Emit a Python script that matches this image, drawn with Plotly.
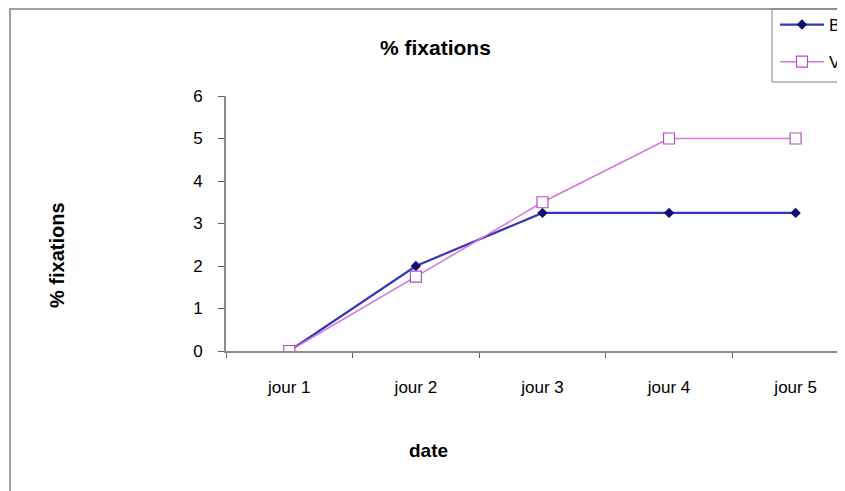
import plotly.graph_objects as go

# Data
days = ["jour 1", "jour 2", "jour 3", "jour 4", "jour 5"]
serie_b = [0, 2, 3.25, 3.25, 3.25]
serie_v = [0, 1.75, 3.5, 5, 5]
y_ticks = [0, 1, 2, 3, 4, 5, 6]

# page body has an 8px margin, so the figure is sized to fit the window
W, H = 837, 483
L, T, B = 218, 88, 140
PW, PH = W - L, H - T - B
FONT = "Liberation Sans, Arial, sans-serif"


def fx(p):
    # figure pixel -> paper x
    return (p - L) / PW


def fy(p):
    # figure pixel -> paper y
    return (T + PH - p) / PH


fig = go.Figure()

fig.add_trace(
    go.Scatter(
        x=days,
        y=serie_b,
        mode="lines+markers",
        name="Bleu",
        legendgroup="b",
        line=dict(color="#3636bc", width=2.2),
        marker=dict(symbol="diamond", size=8, color="#10106e"),
    )
)
fig.add_trace(
    go.Scatter(
        x=days,
        y=serie_v,
        mode="lines+markers",
        name="Violet",
        legendgroup="v",
        line=dict(color="#d674e0", width=1.5),
        marker=dict(symbol="square", size=11, color="white",
                    line=dict(color="#b050c0", width=1.2)),
    )
)

# outer chart frame: only left and top edges show, the rest is cut off
fig.add_shape(
    type="path", xref="paper", yref="paper",
    path=f"M {fx(2)} -1 L {fx(2)} {fy(1)} L 1.3 {fy(1)}",
    line=dict(color="#a0a0a0", width=2),
    layer="below",
)
# legend box, also cut by the right edge
fig.add_shape(
    type="path", xref="paper", yref="paper",
    path=(f"M 1.3 {fy(1)} L {fx(764)} {fy(1)} "
          f"L {fx(764)} {fy(74)} L 1.3 {fy(74)}"),
    line=dict(color="#808080", width=1),
)

# title and axis titles, placed as in the reference
fig.add_annotation(
    text="<b>% fixations</b>", x=fx(427), y=fy(39),
    xref="paper", yref="paper", showarrow=False,
    xanchor="center", yanchor="middle",
    font=dict(family=FONT, size=21, color="black"),
)
fig.add_annotation(
    text="<b>% fixations</b>", x=fx(49), y=fy(247),
    xref="paper", yref="paper", showarrow=False, textangle=-90,
    xanchor="center", yanchor="middle",
    font=dict(family=FONT, size=20, color="black"),
)
fig.add_annotation(
    text="<b>date</b>", x=fx(420), y=fy(442),
    xref="paper", yref="paper", showarrow=False,
    xanchor="center", yanchor="middle",
    font=dict(family=FONT, size=19, color="black"),
)

fig.update_layout(
    width=W,
    height=H,
    margin=dict(l=L, r=0, t=T, b=B, autoexpand=False),
    paper_bgcolor="white",
    plot_bgcolor="white",
    font=dict(family=FONT, size=17, color="black"),
    showlegend=True,
    legend=dict(
        x=fx(767), y=fy(-1),
        xanchor="left", yanchor="top",
        bgcolor="rgba(0,0,0,0)", borderwidth=0,
        font=dict(family=FONT, size=17, color="black"),
        tracegroupgap=12,
        itemwidth=44,
    ),
)
fig.update_xaxes(
    type="category",
    range=[-0.5, 4.39],
    showgrid=False,
    showline=True, linecolor="#8c8c8c", linewidth=2,
    ticks="outside", tickson="boundaries", ticklen=5, tickcolor="#606060",
    ticklabelstandoff=20,
    tickfont=dict(size=17),
    zeroline=False,
)
fig.update_yaxes(
    range=[0, 6],
    tickvals=y_ticks,
    showgrid=False,
    showline=True, linecolor="#8c8c8c", linewidth=2,
    ticks="outside", ticklen=6, tickcolor="#606060",
    ticklabelstandoff=12,
    tickfont=dict(size=17),
    zeroline=False,
)

fig.write_html("out.html")
